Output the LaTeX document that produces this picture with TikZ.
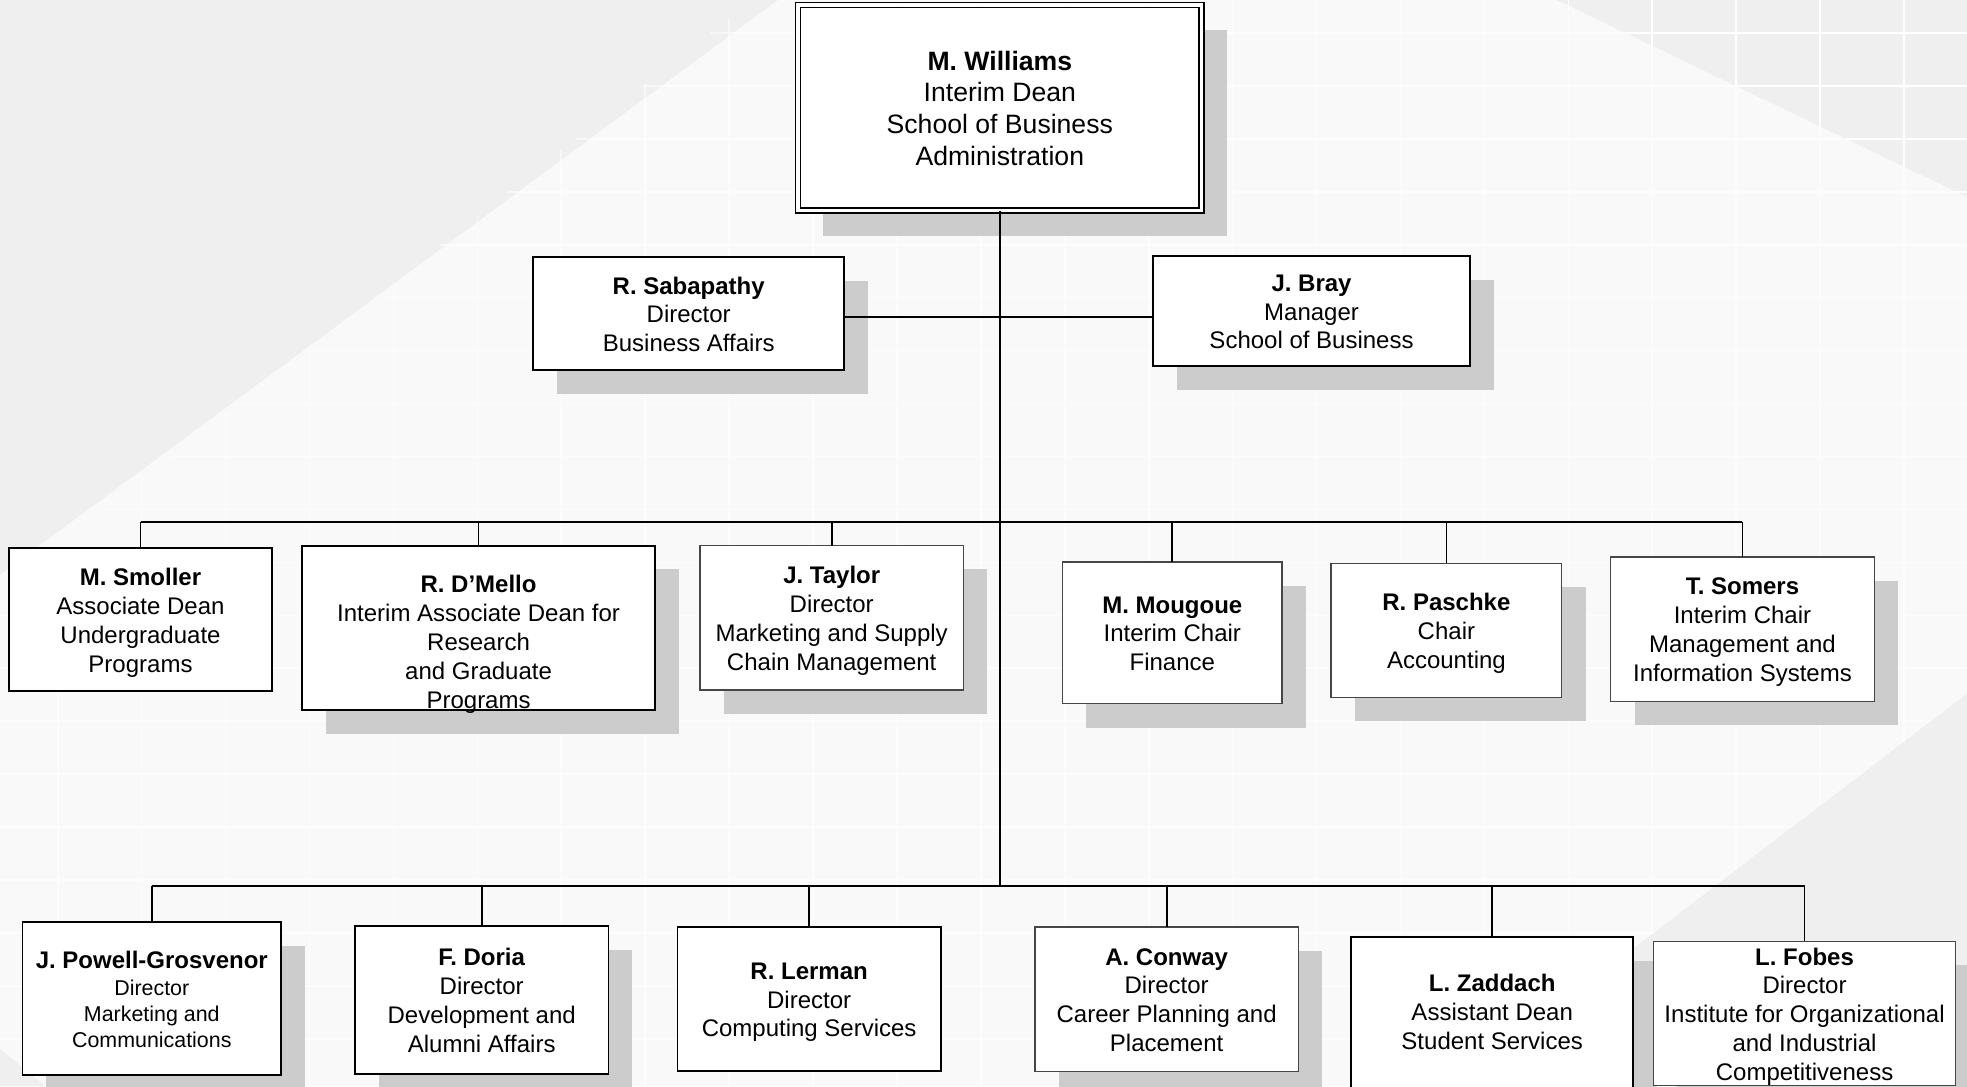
\documentclass[tikz,border=0pt]{standalone}
\usepackage{fontspec}
\setmainfont{Liberation Sans}
\usetikzlibrary{shadows}
\definecolor{backgray}{RGB}{239, 239, 239}
\definecolor{backlight}{RGB}{249, 249, 249}
\definecolor{shadowgray}{RGB}{204, 204, 204}
\definecolor{framegray}{RGB}{70, 70, 70}
\newcommand{\minorline}{\fontsize{10.7}{12.9}\selectfont}
\tikzset{
  chartbox/.style={draw, fill=white, line width=0.9pt, inner sep=0pt, outer sep=0pt},
  chartboxgray/.style={chartbox, draw=framegray, line width=0.6pt},
  castshadow/.style={drop shadow={shadow xshift=11.9pt, shadow yshift=-11.9pt, fill=shadowgray, opacity=1}},
  boxtext/.style={align=center, inner sep=0pt, yshift=-2.5pt, font=\fontsize{12}{14.4}\selectfont,
    execute at begin node=\strut, execute at end node=\strut},
  orgline/.style={line width=0.9pt},
  gridline/.style={white, line width=0.8pt}
}

\begin{document}
\begin{tikzpicture}[x=0.6272pt, y=-0.6272pt]
    \useasboundingbox (0,0) rectangle (1568,866);

    % Background
    \fill[backlight] (0,0) rectangle (1568,866);
    \fill[backgray] (0,0) -- (620,0) -- (0,458) -- cycle;
    \fill[backgray] (1241,0) -- (1568,0) -- (1568,157) -- cycle;
    \fill[backgray] (1568,553) -- (1158,866) -- (1568,866) -- cycle;
    \fill[backgray] (0,836) -- (36,866) -- (0,866) -- cycle;
    \begin{scope}
        \clip (600,0) -- (1568,0) -- (1568,553) -- (1158,866) -- (0,866) -- (0,470) -- cycle;
        \foreach \gx in {0,...,22}
            \draw[gridline, opacity=0.55] ({46+66.9*\gx},0) -- ({46+66.9*\gx},866);
        \foreach \gy in {0,...,20}
            \draw[gridline, opacity=0.55] (0,{26.3+42.2*\gy}) -- (1568,{26.3+42.2*\gy});
    \end{scope}
    \begin{scope}
        \clip (1241,0) -- (1568,0) -- (1568,157) -- cycle;
        \foreach \gx in {18,...,22}
            \draw[gridline] ({46+66.9*\gx},0) -- ({46+66.9*\gx},160);
        \foreach \gy in {0,...,3}
            \draw[gridline] (1200,{26.3+42.2*\gy}) -- (1568,{26.3+42.2*\gy});
    \end{scope}

    % Dean
    \node[chartbox, double, double distance=1.7pt, line width=0.8pt, drop shadow={shadow xshift=12.5pt, shadow yshift=-12.5pt, fill=shadowgray, opacity=1}, minimum width=201.96pt, minimum height=102.86pt] (williams) at (797,86) {};
    \node[boxtext, font=\fontsize{13.3}{15.9}\selectfont] (williams-t) at (williams.center) {\textbf{M. Williams}\\Interim Dean\\School of Business\\Administration};

    % Staff
    \node[chartbox, castshadow, minimum width=155.55pt, minimum height=56.45pt] (sabapathy) at (549,250) {};
    \node[boxtext] (sabapathy-t) at (sabapathy.center) {\textbf{R. Sabapathy}\\Director\\Business Affairs};

    \node[chartbox, castshadow, minimum width=158.68pt, minimum height=55.19pt] (bray) at (1045.5,248) {};
    \node[boxtext] (bray-t) at (bray.center) {\textbf{J. Bray}\\Manager\\School of Business};

    % Associate deans and chairs
    \node[chartbox, minimum width=131.71pt, minimum height=71.50pt] (smoller) at (112,494) {};
    \node[boxtext] (smoller-t) at (smoller.center) {\textbf{M. Smoller}\\Associate Dean\\Undergraduate\\Programs};

    \node[chartbox, castshadow, minimum width=176.24pt, minimum height=82.16pt] (dmello) at (381.5,500.5) {};
    \node[boxtext] (dmello-t) at (381.5,511) {\textbf{R. D’Mello}\\Interim Associate Dean for\\Research\\and Graduate\\Programs};

    \node[chartboxgray, castshadow, minimum width=131.71pt, minimum height=72.13pt] (taylor) at (663,492.5) {};
    \node[boxtext] (taylor-t) at (taylor.center) {\textbf{J. Taylor}\\Director\\Marketing and Supply\\Chain Management};

    \node[chartboxgray, castshadow, minimum width=109.76pt, minimum height=70.87pt] (mougoue) at (934.5,504.5) {};
    \node[boxtext] (mougoue-t) at (mougoue.center) {\textbf{M. Mougoue}\\Interim Chair\\Finance};

    \node[chartboxgray, castshadow, minimum width=115.40pt, minimum height=67.11pt] (paschke) at (1153,502.5) {};
    \node[boxtext] (paschke-t) at (paschke.center) {\textbf{R. Paschke}\\Chair\\Accounting};

    \node[chartboxgray, castshadow, minimum width=131.71pt, minimum height=72.13pt] (somers) at (1389,501.5) {};
    \node[boxtext] (somers-t) at (somers.center) {\textbf{T. Somers}\\Interim Chair\\Management and\\Information Systems};

    % Directors
    \node[chartbox, castshadow, minimum width=129.20pt, minimum height=76.52pt] (powell) at (121,796) {};
    \node[boxtext] (powell-t) at (powell.center) {\textbf{J. Powell-Grosvenor}\\[-0.6pt]{\minorline Director}\\[-1.5pt]{\minorline Marketing and}\\[-1.5pt]{\minorline Communications}};

    \node[chartbox, castshadow, minimum width=126.69pt, minimum height=74.01pt] (doria) at (384,797) {};
    \node[boxtext] (doria-t) at (doria.center) {\textbf{F. Doria}\\Director\\Development and\\Alumni Affairs};

    \node[chartbox, minimum width=131.71pt, minimum height=72.13pt] (lerman) at (645,796.5) {};
    \node[boxtext] (lerman-t) at (lerman.center) {\textbf{R. Lerman}\\Director\\Computing Services};

    \node[chartboxgray, castshadow, minimum width=131.71pt, minimum height=72.13pt] (conway) at (930,796.5) {};
    \node[boxtext] (conway-t) at (conway.center) {\textbf{A. Conway}\\Director\\Career Planning and\\Placement};

    \node[chartbox, castshadow, minimum width=141.12pt, minimum height=77.77pt] (zaddach) at (1189.5,809) {};
    \node[boxtext] (zaddach-t) at (1189.5,806) {\textbf{L. Zaddach}\\Assistant Dean\\Student Services};

    \node[chartboxgray, castshadow, minimum width=151.16pt, minimum height=71.81pt] (fobes) at (1438.5,807.75) {};
    \node[boxtext] (fobes-t) at (fobes.center) {\textbf{L. Fobes}\\Director\\Institute for Organizational\\and Industrial\\Competitiveness};

    % Reporting lines
    \coordinate (bus1) at (797,416);
    \coordinate (bus2) at (797,706);
    \coordinate (staff) at (797,253);
    \draw[orgline, line width=0.7pt] (williams.south) -- (bus2);
    \draw[orgline] (staff -| sabapathy.east) -- (staff -| bray.west);
    \draw[orgline, line width=1pt] (smoller.north |- bus1) -- (somers.north |- bus1);
    \foreach \n in {smoller, dmello, taylor, mougoue, paschke, somers}
        \draw[orgline] (\n.north) -- (\n.north |- bus1);
    \draw[orgline, line width=1pt] (powell.north |- bus2) -- (fobes.north |- bus2);
    \foreach \n in {powell, doria, lerman, conway, zaddach, fobes}
        \draw[orgline] (\n.north) -- (\n.north |- bus2);

\end{tikzpicture}
\end{document}
